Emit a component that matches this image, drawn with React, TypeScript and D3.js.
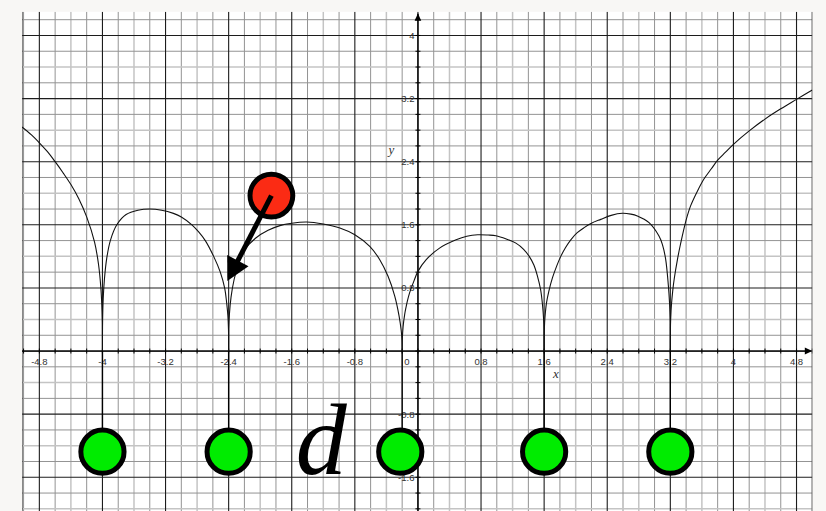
import React from "react";
import * as d3 from "d3";

// Curve samples (x, y)
const curveX = [
  -5.02, -4.9, -4.8, -4.7, -4.6, -4.5, -4.4, -4.3, -4.2, -4.1, -4.05, -4.02, -4.008, -4.002, -4.0,
  -3.998, -3.99, -3.975, -3.945, -3.9, -3.818, -3.7, -3.55, -3.4, -3.25, -3.1, -3.0, -2.866, -2.78, -2.696, -2.59, -2.506, -2.451, -2.425, -2.41, -2.402, -2.4,
  -2.398, -2.39, -2.37, -2.33, -2.27, -2.2, -2.06, -1.9, -1.75, -1.6, -1.41, -1.2, -0.99, -0.8, -0.611, -0.484, -0.379, -0.295, -0.24, -0.212, -0.203, -0.2,
  -0.197, -0.188, -0.168, -0.15, -0.135, -0.105, -0.05, 0, 0.105, 0.274, 0.484, 0.62, 0.758, 0.89, 0.989, 1.12, 1.242, 1.34, 1.411, 1.47, 1.516, 1.555, 1.579, 1.594, 1.598, 1.6,
  1.601, 1.604, 1.61, 1.63, 1.66, 1.706, 1.76, 1.811, 1.87, 1.938, 2.02, 2.107, 2.2, 2.318, 2.45, 2.592, 2.7, 2.782, 2.93, 3.056, 3.1, 3.141, 3.175, 3.19, 3.195, 3.198, 3.2,
  3.202, 3.206, 3.213, 3.23, 3.25, 3.29, 3.33, 3.4, 3.457, 3.54, 3.626, 3.72, 3.8, 3.9, 4.0, 4.2, 4.4, 4.6, 4.8, 5.0,
];
const curveY = [
  2.84, 2.74, 2.64, 2.53, 2.4, 2.26, 2.11, 1.93, 1.7, 1.38, 1.1, 0.8, 0.58, 0.37, 0,
  0.39, 0.67, 0.91, 1.18, 1.4, 1.6, 1.73, 1.785, 1.8, 1.785, 1.745, 1.7, 1.6, 1.51, 1.4, 1.2, 1.0, 0.8, 0.61, 0.45, 0.27, 0,
  0.28, 0.47, 0.68, 0.91, 1.12, 1.28, 1.43, 1.53, 1.59, 1.62, 1.635, 1.61, 1.56, 1.474, 1.326, 1.158, 0.947, 0.7, 0.45, 0.26, 0.14, 0,
  0.17, 0.31, 0.465, 0.56, 0.63, 0.74, 0.89, 1.01, 1.158, 1.305, 1.41, 1.455, 1.474, 1.47, 1.461, 1.42, 1.368, 1.29, 1.2, 1.09, 0.947, 0.78, 0.59, 0.39, 0.27, 0,
  0.195, 0.31, 0.42, 0.61, 0.76, 0.93, 1.08, 1.2, 1.31, 1.41, 1.5, 1.564, 1.62, 1.669, 1.72, 1.746, 1.735, 1.712, 1.627, 1.458, 1.35, 1.162, 0.83, 0.61, 0.49, 0.36, 0,
  0.33, 0.44, 0.57, 0.76, 0.92, 1.16, 1.36, 1.66, 1.84, 2.02, 2.18, 2.31, 2.42, 2.52, 2.62, 2.79, 2.94, 3.07, 3.19, 3.31,
];

const rootX = [-4, -2.4, -0.2, 1.6, 3.2];
const bobX = [-4, -2.4, -0.224, 1.6, 3.2];
const bobY = [-1.276, -1.276, -1.276, -1.276, -1.276];
const redBall = [-1.858, 1.97];
const arrowTip = [-2.417, 0.887];
const labelD = [-1.55, -1.559];

const xTickValues = [-4.8, -4, -3.2, -2.4, -1.6, -0.8, 0, 0.8, 1.6, 2.4, 3.2, 4, 4.8];
const xTickLabels = ["-4.8", "-4", "-3.2", "-2.4", "-1.6", "-0.8", "0", "0.8", "1.6", "2.4", "3.2", "4", "4.8"];
const yTickValues = [4, 3.2, 2.4, 1.6, 0.8, -0.8, -1.6];
const yTickLabels = ["4", "3.2", "2.4", "1.6", "0.8", "-0.8", "-1.6"];

const W = 826;
const H = 511;

export default function App() {
  const x = d3.scaleLinear().domain([-5.02, 5.0]).range([22, 812.3]);
  const y = d3.scaleLinear().domain([-2.03, 4.3]).range([511.2, 11.8]);
  const left = x(-5.02), right = x(5.0), top = y(4.3), bottom = 515;

  const vLines = d3.range(-25, 26).map((i) => ({ v: i * 0.2, k: ((i % 4) + 4) % 4 }));
  const hLines = d3.range(-11, 22).map((i) => ({ v: i * 0.2, k: ((i % 4) + 4) % 4 }));

  // split the curve into arches at its zeros so cusps stay sharp
  const segments: [number, number][][] = [];
  let cur: [number, number][] = [];
  curveX.forEach((cx, i) => {
    const p: [number, number] = [cx, curveY[i]];
    cur.push(p);
    if (curveY[i] === 0 && cur.length > 1) {
      segments.push(cur);
      cur = [p];
    }
  });
  if (cur.length > 1) segments.push(cur);

  const line = d3
    .line<[number, number]>()
    .x((d) => x(d[0]))
    .y((d) => y(d[1]))
    .curve(d3.curveCatmullRom.alpha(0.5));

  const gridStroke = (k: number) => (k === 0 ? "#1c1c1c" : k === 2 ? "#c4c4c4" : "#939393");
  const gridWidth = (k: number) => (k === 0 ? 1.1 : k === 2 ? 1.5 : 1);

  const x0 = x(0), y0 = y(0);

  // arrow geometry
  const sx = x(redBall[0]), sy = y(redBall[1]);
  const tx = x(arrowTip[0]), ty = y(arrowTip[1]);
  const len = Math.hypot(tx - sx, ty - sy);
  const ux = (tx - sx) / len, uy = (ty - sy) / len;
  const nx = -uy, ny = ux;
  const headLen = 23, headHalf = 12;
  const bx = tx - ux * headLen, by = ty - uy * headLen;
  const head = `${tx},${ty} ${bx + nx * headHalf},${by + ny * headHalf} ${bx - nx * headHalf},${by - ny * headHalf}`;

  const minorTicks = d3.range(-25, 26).map((i) => i * 0.2);
  const minorTicksY = d3.range(-11, 22).map((i) => i * 0.2);

  const bobR = 21.6;

  return (
    <div style={{ position: "absolute", left: 0, top: 0, width: W, height: H }}>
      <svg width={W} height={H} style={{ display: "block" }}>
        <defs>
          <clipPath id="plot">
            <rect x={left} y={top} width={right - left} height={bottom - top} />
          </clipPath>
        </defs>
        <rect x={0} y={0} width={W} height={H} fill="#f8f7f5" />
        <rect x={left} y={top} width={right - left} height={bottom - top} fill="#ffffff" />
        <g clipPath="url(#plot)">
          {vLines.filter((d) => d.k !== 0).map((d, i) => (
            <line key={"v" + i} x1={x(d.v)} x2={x(d.v)} y1={top} y2={bottom} stroke={gridStroke(d.k)} strokeWidth={gridWidth(d.k)} />
          ))}
          {hLines.filter((d) => d.k !== 0).map((d, i) => (
            <line key={"h" + i} x1={left} x2={right} y1={y(d.v)} y2={y(d.v)} stroke={gridStroke(d.k)} strokeWidth={gridWidth(d.k)} />
          ))}
          {vLines.filter((d) => d.k === 0).map((d, i) => (
            <line key={"vm" + i} x1={x(d.v)} x2={x(d.v)} y1={top} y2={bottom} stroke={gridStroke(0)} strokeWidth={gridWidth(0)} />
          ))}
          {hLines.filter((d) => d.k === 0).map((d, i) => (
            <line key={"hm" + i} x1={left} x2={right} y1={y(d.v)} y2={y(d.v)} stroke={gridStroke(0)} strokeWidth={gridWidth(0)} />
          ))}
          <line x1={left} x2={left} y1={top} y2={bottom} stroke="#3a3a3a" strokeWidth={1.2} />
          <line x1={right} x2={right} y1={top} y2={bottom} stroke="#3a3a3a" strokeWidth={1.2} />

          {/* axes */}
          <line x1={left} x2={right - 2} y1={y0} y2={y0} stroke="#000" strokeWidth={1.3} />
          <line x1={x0} x2={x0} y1={top + 2} y2={bottom} stroke="#000" strokeWidth={1.3} />
          {minorTicks.map((v, i) => (
            <line key={"tx" + i} x1={x(v)} x2={x(v)} y1={y0 - 2.5} y2={y0 + 2.5} stroke="#000" strokeWidth={1} />
          ))}
          {minorTicksY.map((v, i) => (
            <line key={"ty" + i} x1={x0 - 2.5} x2={x0 + 2.5} y1={y(v)} y2={y(v)} stroke="#000" strokeWidth={1} />
          ))}
          <polygon points={`${right},${y0} ${right - 7.5},${y0 - 3.5} ${right - 7.5},${y0 + 3.5}`} fill="#000" />
          <polygon points={`${x0},${top + 1.5} ${x0 - 3.3},${top + 9} ${x0 + 3.3},${top + 9}`} fill="#000" />

          {/* tick labels */}
          {xTickValues.map((v, i) => (
            <text
              key={"xl" + i}
              x={v === 0 ? x0 - 8.5 : x(v)}
              y={y0 + 14}
              textAnchor={v === 0 ? "end" : "middle"}
              fontFamily="Liberation Sans, Arial, sans-serif"
              fontSize={9.5}
              fill="#333"
            >
              {xTickLabels[i]}
            </text>
          ))}
          {yTickValues.map((v, i) => (
            <text
              key={"yl" + i}
              x={x0 - 3.5}
              y={y(v) + 3.5}
              textAnchor="end"
              fontFamily="Liberation Sans, Arial, sans-serif"
              fontSize={9.5}
              fill="#333"
            >
              {yTickLabels[i]}
            </text>
          ))}
          <text x={x(1.75)} y={y0 + 27} fontFamily="Liberation Serif, Times New Roman, serif" fontStyle="italic" fontSize={13} fill="#333" textAnchor="middle">x</text>
          <text x={x0 - 26.5} y={y(2.5)} fontFamily="Liberation Serif, Times New Roman, serif" fontStyle="italic" fontSize={13} fill="#333" textAnchor="middle">y</text>

          {/* curve */}
          {segments.map((seg, i) => (
            <path key={"c" + i} d={line(seg) || ""} fill="none" stroke="#111" strokeWidth={1.1} />
          ))}

          {/* strings */}
          {rootX.map((rx, i) => (
            <line key={"s" + i} x1={x(rx)} x2={x(rx)} y1={y0} y2={y(bobY[i]) - bobR} stroke="#000" strokeWidth={1.4} />
          ))}
          {/* bobs */}
          {bobX.map((bx2, i) => (
            <circle key={"b" + i} cx={x(bx2)} cy={y(bobY[i])} r={bobR} fill="#00ec00" stroke="#000" strokeWidth={5} />
          ))}

          {/* d label */}
          <text x={x(labelD[0])} y={y(labelD[1])} fontFamily="Liberation Serif, Times New Roman, serif" fontStyle="italic" fontSize={102} fill="#000">d</text>

          {/* red ball and arrow */}
          <circle cx={sx} cy={sy} r={21.4} fill="#fb2b14" stroke="#000" strokeWidth={5} />
          <line x1={sx} y1={sy} x2={bx + ux * 2} y2={by + uy * 2} stroke="#000" strokeWidth={5} />
          <polygon points={head} fill="#000" />
        </g>
      </svg>
    </div>
  );
}
